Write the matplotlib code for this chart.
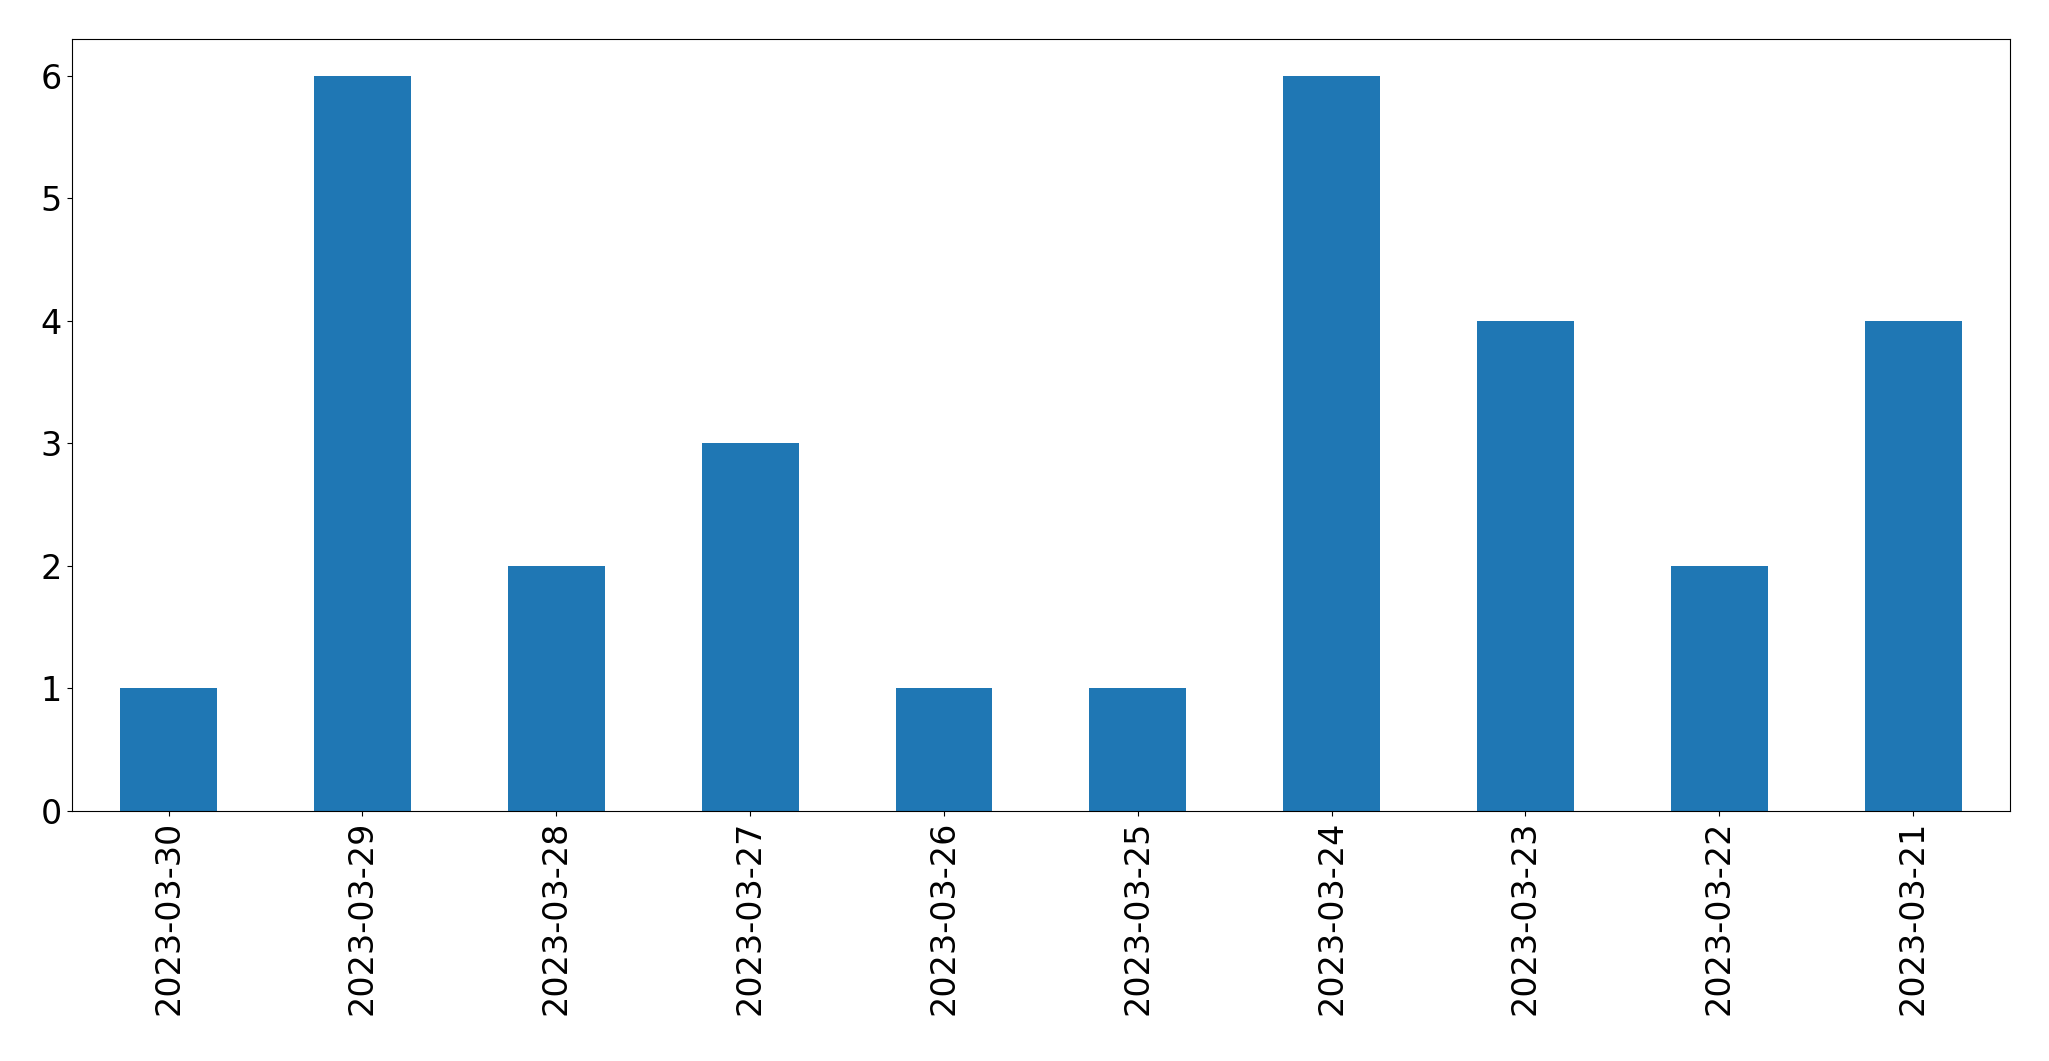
import matplotlib
matplotlib.use("Agg")
import matplotlib.pyplot as plt
import pandas as pd

dates = ["2023-03-30", "2023-03-29", "2023-03-28", "2023-03-27", "2023-03-26",
         "2023-03-25", "2023-03-24", "2023-03-23", "2023-03-22", "2023-03-21"]
counts = [1, 6, 2, 3, 1, 1, 6, 4, 2, 4]

s = pd.Series(counts, index=dates)

fig = plt.figure(figsize=(20.49, 10.61), dpi=100)
ax = fig.add_axes([0.035, 0.236, 0.946, 0.727])
s.plot(kind="bar", ax=ax, color="#1f77b4")
ax.tick_params(axis="both", labelsize=24)
fig.savefig("out.png", dpi=100)
